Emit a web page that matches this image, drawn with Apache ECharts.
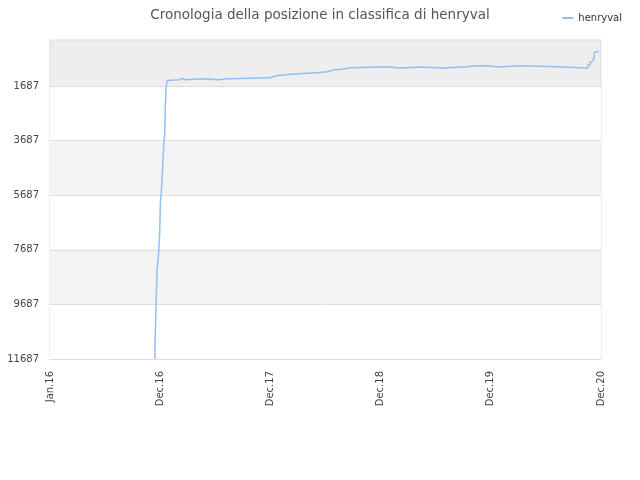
<!DOCTYPE html>
<html>
<head>
<meta charset="utf-8">
<script src="https://cdn.jsdelivr.net/npm/echarts@6/dist/echarts.min.js"></script>
<style>
  html, body { margin: 0; padding: 0; background: #fff; }
  #chart { width: 640px; height: 480px; }
</style>
</head>
<body>
<div id="chart"></div>
<script>
// asse x: mesi da Jan.16 (ogni etichetta = 12 unità, spaziatura uniforme)
var xLabels = ['Jan.16', 'Dec.16', 'Dec.17', 'Dec.18', 'Dec.19', 'Dec.20'];
var yTicks = [1687, 3687, 5687, 7687, 9687, 11687];

// posizione in classifica (x = mese, y = posizione)
var months = [
    11.42, 11.44, 11.55, 11.66, 11.73, 11.84, 11.95, 12.02, 12.13, 12.27,
    12.38, 12.49, 12.55, 12.64, 12.75, 12.90, 13.08, 14.10, 14.32, 14.64,
    16.47, 18.36, 19.34, 23.93, 24.26, 24.70, 25.57, 27.10, 29.07, 30.16,
    30.82, 31.91, 32.79, 36.72, 38.14, 40.40, 42.73, 45.46, 46.01, 47.54,
    48.85, 51.26, 56.07, 58.36, 58.58, 58.80, 59.02, 59.23, 59.29, 59.56,
    59.75
];
var ranks = [
    11687, 11052, 9745, 8353, 8206, 7792, 6961, 5972, 5558, 4642,
    3847, 3481, 2492, 1759, 1485, 1477, 1455, 1404, 1455, 1419,
    1455, 1419, 1382, 1345, 1309, 1272, 1235, 1199, 1162, 1100,
    1063, 1016, 979, 1027, 990, 1027, 979, 953, 942, 990,
    942, 990, 1027, 1027, 917, 807, 734, 671, 441, 404,
    404
];

var seriesData = [];
for (var i = 0; i < months.length; i++) {
    seriesData.push([months[i], ranks[i]]);
}

var chart = echarts.init(document.getElementById('chart'));
chart.setOption({
    animation: false,
    textStyle: { fontFamily: 'DejaVu Sans' },
    title: {
        text: 'Cronologia della posizione in classifica di henryval',
        left: 'center',
        top: 3,
        textStyle: { fontSize: 13.5, fontWeight: 'normal', color: '#555', fontFamily: 'DejaVu Sans' }
    },
    legend: {
        right: 13,
        top: 8,
        icon: 'rect',
        itemWidth: 11,
        itemHeight: 2,
        itemGap: 6,
        textStyle: { fontSize: 10, color: '#333' },
        data: ['henryval']
    },
    grid: {
        left: 50,
        right: 39,
        top: 40,
        bottom: 121,
        show: true,
        backgroundColor: '#eeeeee',
        borderColor: '#dddddd',
        borderWidth: 1
    },
    xAxis: {
        type: 'value',
        min: 0,
        max: 60,
        interval: 12,
        axisLine: { show: true, lineStyle: { color: '#dddddd' } },
        axisTick: { show: false },
        splitLine: { show: false },
        axisLabel: {
            rotate: 90,
            fontSize: 10,
            color: '#444',
            margin: 12,
            formatter: function(v) {
                return xLabels[Math.round(v / 12)] || '';
            }
        }
    },
    yAxis: {
        type: 'value',
        inverse: true,
        min: 1,
        max: 11687,
        axisLine: { show: false },
        axisTick: { show: false, customValues: yTicks },
        axisLabel: {
            customValues: yTicks,
            fontSize: 10,
            color: '#444',
            margin: 11,
            formatter: function(v) { return String(v); }
        },
        splitLine: { show: true, lineStyle: { color: '#dddddd' } },
        splitArea: { show: true, areaStyle: { color: ['#ffffff', '#f3f3f3'] } }
    },
    series: [{
        name: 'henryval',
        type: 'line',
        step: 'end',
        showSymbol: false,
        symbol: 'none',
        lineStyle: { color: '#8fc0f2', width: 1.5 },
        itemStyle: { color: '#8fc0f2' },
        data: seriesData
    }]
});
</script>
</body>
</html>
